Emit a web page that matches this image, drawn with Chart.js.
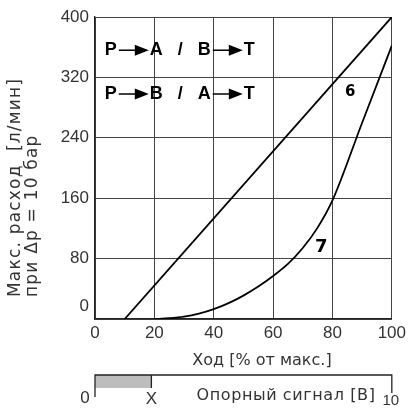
<!DOCTYPE html>
<html>
<head>
<meta charset="utf-8">
<script src="https://cdn.jsdelivr.net/npm/chart.js@4.4.1/dist/chart.umd.min.js"></script>
<style>
  body { margin: 0; background: #fff; }
  #wrap { width: 410px; height: 410px; }
</style>
</head>
<body>
<div id="wrap"><canvas id="chart"></canvas></div>
<script>
// axis ticks
const strokeTicks = [0, 20, 40, 60, 80, 100];
const flowTicks = [0, 80, 160, 240, 320, 400];

// curve 6 (straight) and curve 7 (progressive)
const stroke6 = [10, 100];
const flow6 = [0, 400];
const stroke7 = [20, 25, 30, 35, 40, 45, 50, 55, 60, 65, 70, 75, 80, 90, 100];
const flow7 = [0, 1, 3, 7, 13, 21, 31, 43, 57, 73, 94, 121, 157, 260, 362];

// curve names and where they sit (data units)
const curveNames = ['6', '7'];
const curveNameX = [86, 76.2];
const curveNameY = [301, 95];

// direction notes
const directions = ['P→A   /   B→T', 'P→B   /   A→T'];
const directionX = 3.3;
const directionY = [356, 298];

// reference signal bar below the chart
const signalLabels = ['0', 'X', '10'];
const signalStroke = [0, 19, 100];
const signalTitle = 'Опорный сигнал [В]';

const yTitle = ['Макс. расход  [л/мин]', 'при Δp = 10 бар'];
const xTitle = 'Ход [% от макс.]';

const thinFont = "'Liberation Sans', sans-serif";
const textFont = "'DejaVu Sans', sans-serif";
const ink = '#333';

const toPoints = (xs, ys) => xs.map((x, i) => ({ x: x, y: ys[i] }));

const extras = {
  id: 'extras',
  afterDraw(chart) {
    const ctx = chart.ctx;
    const xs = chart.scales.x;
    const ys = chart.scales.y;
    const area = chart.chartArea;
    ctx.save();

    // y tick labels (the 0 sits a bit above the axis, as in the print)
    ctx.fillStyle = ink;
    ctx.font = '300 17px ' + thinFont;
    ctx.textAlign = 'right';
    ctx.textBaseline = 'middle';
    flowTicks.forEach(v => {
      let py = ys.getPixelForValue(v);
      if (v === 0) py -= 13;
      ctx.fillText(String(v), area.left - 6, py);
    });

    // y title, two lines, reading upward
    ctx.font = '17px ' + textFont;
    ctx.letterSpacing = '1.2px';
    ctx.textAlign = 'left';
    yTitle.forEach((t, i) => {
      ctx.save();
      ctx.translate(16 + i * 17, area.bottom - 22);
      ctx.rotate(-Math.PI / 2);
      ctx.fillText(t, 0, 0);
      ctx.restore();
    });

    // x title, a little right of centre as in the print
    ctx.font = '16px ' + textFont;
    ctx.letterSpacing = '0px';
    ctx.textAlign = 'center';
    ctx.fillText(xTitle, 262, area.bottom + 42);

    // curve names
    ctx.fillStyle = '#000';
    curveNames.forEach((n, i) => {
      ctx.font = (i === 0 ? 'bold 15px ' : 'bold 18px ') + textFont;
      ctx.fillText(n, xs.getPixelForValue(curveNameX[i]), ys.getPixelForValue(curveNameY[i]));
    });

    // direction notes with drawn arrows
    ctx.font = 'bold 18px ' + thinFont;
    ctx.textAlign = 'left';
    ctx.lineWidth = 1.5;
    ctx.strokeStyle = '#000';
    directions.forEach((d, i) => {
      let px = xs.getPixelForValue(directionX);
      const py = ys.getPixelForValue(directionY[i]);
      const parts = d.split('→');
      parts.forEach((p, k) => {
        ctx.fillText(p, px, py);
        px += ctx.measureText(p).width;
        if (k < parts.length - 1) {
          const a0 = px + 2, a1 = px + 32;
          ctx.beginPath();
          ctx.moveTo(a0, py);
          ctx.lineTo(a1 - 12, py);
          ctx.stroke();
          ctx.beginPath();
          ctx.moveTo(a1 - 14, py - 5.5);
          ctx.lineTo(a1, py);
          ctx.lineTo(a1 - 14, py + 5.5);
          ctx.closePath();
          ctx.fill();
          px = a1 + 1;
        }
      });
    });

    // reference signal bar
    const barY = area.bottom + 56;
    const sx = signalStroke.map(v => xs.getPixelForValue(v));
    ctx.fillStyle = '#bdbdbd';
    ctx.fillRect(sx[0], barY, sx[1] - sx[0], 13);
    ctx.strokeStyle = '#222';
    ctx.lineWidth = 1.3;
    ctx.beginPath();
    ctx.moveTo(sx[0], barY + 22);
    ctx.lineTo(sx[0], barY);
    ctx.lineTo(sx[2], barY);
    ctx.lineTo(sx[2], barY + 18);
    ctx.moveTo(sx[1], barY);
    ctx.lineTo(sx[1], barY + 13);
    ctx.stroke();

    ctx.fillStyle = ink;
    ctx.textAlign = 'center';
    ctx.font = '300 17px ' + thinFont;
    ctx.fillText(signalLabels[0], sx[0] - 10, barY + 23);
    ctx.fillText(signalLabels[1], sx[1], barY + 24);
    ctx.font = '300 15px ' + thinFont;
    ctx.fillText(signalLabels[2], sx[2] - 1, barY + 26);
    ctx.font = '16px ' + textFont;
    ctx.letterSpacing = '0.6px';
    ctx.fillText(signalTitle, 286, barY + 21);

    ctx.restore();
  }
};

new Chart(document.getElementById('chart'), {
  type: 'line',
  data: {
    datasets: [
      {
        data: toPoints(stroke6, flow6),
        borderColor: '#000',
        borderWidth: 1.8,
        pointRadius: 0,
      },
      {
        data: toPoints(stroke7, flow7),
        borderColor: '#000',
        borderWidth: 1.8,
        pointRadius: 0,
        cubicInterpolationMode: 'monotone',
      },
    ],
  },
  options: {
    responsive: true,
    maintainAspectRatio: false,
    animation: false,
    layout: { padding: { top: 17, right: 13, bottom: 0, left: 0 } },
    plugins: { legend: { display: false }, tooltip: { enabled: false } },
    scales: {
      x: {
        type: 'linear',
        min: 0,
        max: 100,
        afterBuildTicks: s => { s.ticks = strokeTicks.map(v => ({ value: v })); },
        afterFit: s => { s.height = 91; },
        grid: { color: '#444', lineWidth: 1, drawTicks: false },
        border: { color: '#222', width: 1.3 },
        ticks: { padding: 4, color: ink, font: { family: thinFont, size: 17, weight: '300' } },
      },
      y: {
        min: 0,
        max: 400,
        afterBuildTicks: s => { s.ticks = flowTicks.map(v => ({ value: v })); },
        afterFit: s => { s.width = 95; },
        grid: { color: '#444', lineWidth: 1, drawTicks: false },
        border: { color: '#222', width: 1.3 },
        ticks: { display: false },
      },
    },
  },
  plugins: [extras],
});
</script>
</body>
</html>
